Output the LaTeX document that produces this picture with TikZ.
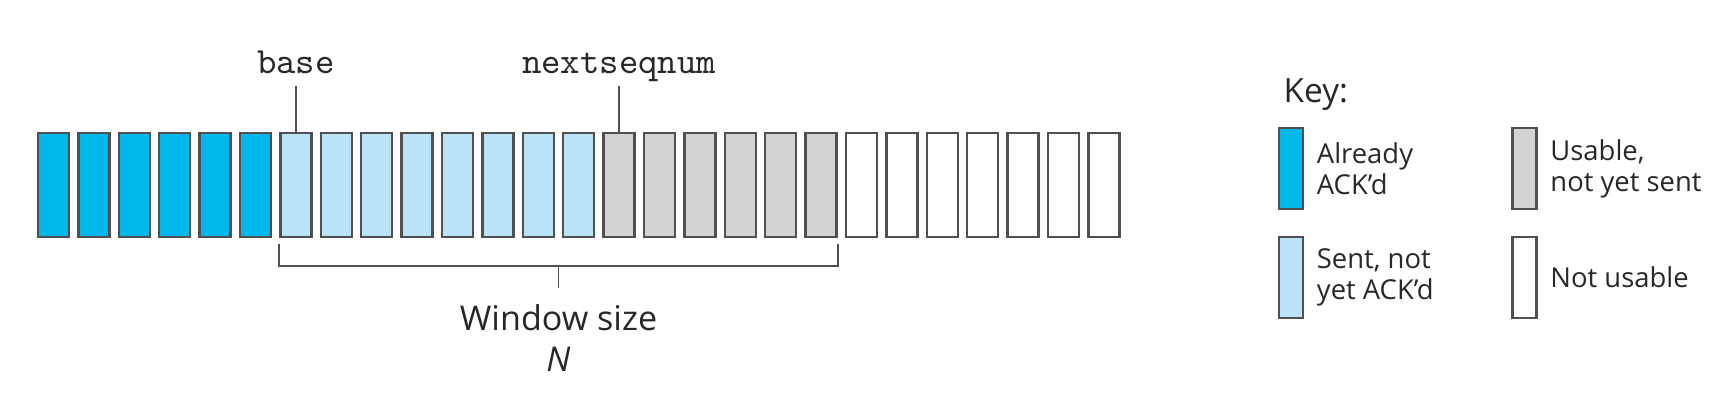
\documentclass[tikz,border=0pt]{standalone}
\usepackage{fontspec}
\setmainfont{Open Sans}
\definecolor{ackblue}{RGB}{0,183,235}
\definecolor{sentblue}{RGB}{186,227,247}
\definecolor{usegray}{RGB}{209,211,212}
\definecolor{framegray}{RGB}{80,80,80}
\definecolor{inkgray}{RGB}{40,40,40}
\usepackage{tikz}
\usetikzlibrary{positioning,calc}
\tikzset{
  slot/.style={draw=framegray,line width=0.7pt,minimum width=0.31cm,minimum height=1.04cm,inner sep=0pt},
  slotA/.style={slot,fill=ackblue},
  slotS/.style={slot,fill=sentblue},
  slotU/.style={slot,fill=usegray},
  slotN/.style={slot,fill=white},
  keybox/.style={draw=framegray,line width=0.7pt,minimum width=0.24cm,minimum height=0.81cm,inner sep=0pt},
  ptrlab/.style={font=\ttfamily\fontsize{10.5}{12}\selectfont,text depth=0pt,inner sep=0.12cm},
  ptrln/.style={framegray,line width=0.5pt},
  keytxt/.style={font=\fontsize{7.8}{8.8}\selectfont,align=left,inner sep=0pt},
}

\begin{document}
\begin{tikzpicture}[inkgray]
  \useasboundingbox (0,0) rectangle (17.16,4.02);
  \def\pitch{0.404}\def\x0{0.535}\def\yrow{2.17}
  % sequence number slots
  \foreach \i in {0,...,5}   \node[slotA] (f\i) at ({\x0+\i*\pitch},\yrow) {};
  \foreach \i in {6,...,13}  \node[slotS] (f\i) at ({\x0+\i*\pitch},\yrow) {};
  \foreach \i in {14,...,19} \node[slotU] (f\i) at ({\x0+\i*\pitch},\yrow) {};
  \foreach \i in {20,...,26} \node[slotN] (f\i) at ({\x0+\i*\pitch},\yrow) {};
  % pointers
  \node[ptrlab,above=0.46cm of f6] (lbase) {base};
  \draw[ptrln] (f6.north) -- (lbase.south);
  \node[ptrlab,above=0.46cm of f14] (lnext) {nextseqnum};
  \draw[ptrln] (f14.north) -- (lnext.south);
  % window bracket
  \coordinate (wl) at ([yshift=-0.28cm]f6.south west);
  \coordinate (wr) at ([yshift=-0.28cm]f19.south east);
  \coordinate (wm) at ($(wl)!0.5!(wr)$);
  \draw[ptrln] ([yshift=0.22cm]wl) -- (wl) -- (wr) -- ([yshift=0.22cm]wr);
  \node[below=0.22cm of wm,align=center,font=\fontsize{9.7}{11.7}\selectfont,inner sep=0.16cm] (wlab) {Window size\\\textit{N}};
  \draw[ptrln] (wm) -- (wlab.north);
  % key
  \node[anchor=base west,inner sep=0pt,font=\fontsize{9.5}{11}\selectfont] (keyhd) at (12.83,2.99) {Key:};
  \node[keybox,fill=ackblue]  (kA) at (12.91,2.335) {};
  \node[keybox,fill=sentblue] (kS) at (12.91,1.245) {};
  \node[keybox,fill=usegray]  (kU) at (15.245,2.335) {};
  \node[keybox,fill=white]    (kN) at (15.245,1.245) {};
  \node[keytxt,right=0.12cm of kA] (tA) {Already\\ACK'd};
  \node[keytxt,right=0.12cm of kS] (tS) {Sent, not\\yet ACK'd};
  \node[keytxt,right=0.12cm of kU] (tU) {Usable,\\not yet sent};
  \node[keytxt,right=0.12cm of kN] (tN) {Not usable};
\end{tikzpicture}
\end{document}
